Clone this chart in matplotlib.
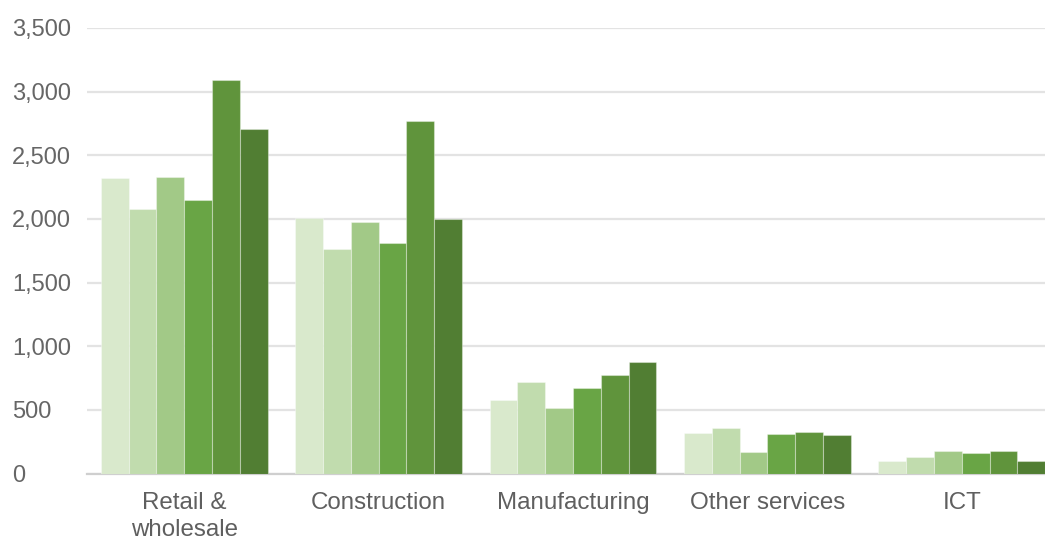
import numpy as np
import matplotlib
matplotlib.use("Agg")
import matplotlib.pyplot as plt
from matplotlib.ticker import FuncFormatter

# Sector totals for six consecutive periods
categories = ["Retail &\nwholesale", "Construction", "Manufacturing", "Other services", "ICT"]
series_1 = [2320, 2010, 579, 318, 102]
series_2 = [2076, 1762, 719, 357, 133]
series_3 = [2333, 1974, 512, 169, 180]
series_4 = [2151, 1808, 668, 307, 161]
series_5 = [3092, 2773, 772, 328, 174]
series_6 = [2706, 2003, 874, 302, 102]
series = [series_1, series_2, series_3, series_4, series_5, series_6]
colors = ["#d9e9cc", "#c1dcae", "#a2c987", "#69a545", "#60943c", "#517e33"]
y_ticks = [0, 500, 1000, 1500, 2000, 2500, 3000, 3500]

plt.rcParams["font.family"] = ["Liberation Sans", "DejaVu Sans"]

fig = plt.figure(figsize=(10.45, 5.36), dpi=100)
ax = fig.add_axes([87 / 1045, 1 - 473.5 / 536, 972 / 1045, 445.5 / 536])

x = np.arange(len(categories))
n = len(series)
bar_w = 0.143
for i, (vals, col) in enumerate(zip(series, colors)):
    offs = (i - (n - 1) / 2) * bar_w
    ax.bar(x + offs, vals, width=bar_w, color=col,
           edgecolor=(1, 1, 1, 0.35), linewidth=0.8, zorder=3)

ax.set_xlim(-0.5, len(categories) - 0.5)
ax.set_ylim(0, 3500)
ax.set_yticks(y_ticks)
ax.yaxis.set_major_formatter(FuncFormatter(lambda v, p: f"{int(v):,}"))
ax.set_xticks(x)
ax.set_xticklabels(categories, linespacing=1.3)

ax.grid(axis="y", color="#e3e3e3", linewidth=1.6, zorder=0)
ax.set_axisbelow(True)
for s in ["top", "right", "left"]:
    ax.spines[s].set_visible(False)
ax.spines["bottom"].set_color("#cfcfcf")
ax.spines["bottom"].set_linewidth(1.6)

ax.tick_params(axis="y", length=0, pad=54, labelsize=17, labelcolor="#666666")
ax.tick_params(axis="x", length=0, pad=13.5, labelsize=17.4, labelcolor="#5f5f5f")
for lbl in ax.get_yticklabels():
    lbl.set_horizontalalignment("left")

fig.savefig("out.png", dpi=100)
